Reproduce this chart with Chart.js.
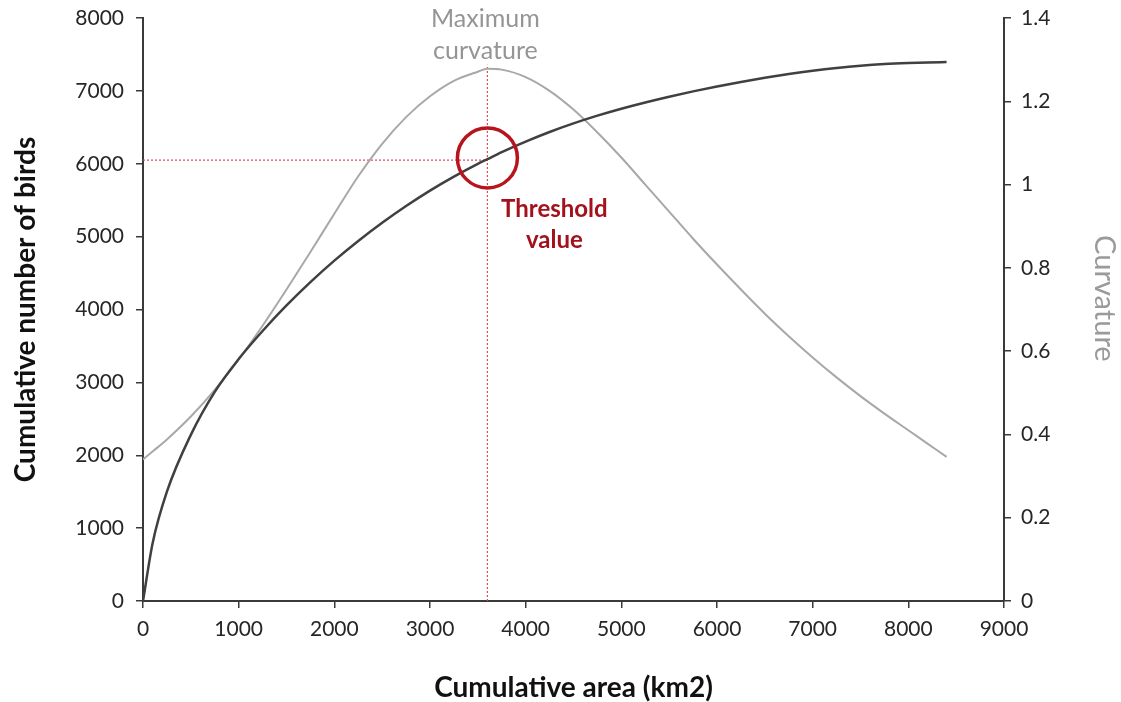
<!DOCTYPE html>
<html>
<head>
<meta charset="utf-8">
<script src="https://cdn.jsdelivr.net/npm/chart.js@4.4.1/dist/chart.umd.min.js"></script>
<style>
  html, body { margin: 0; padding: 0; background: #fff; }
  canvas { display: block; }
</style>
</head>
<body>
<canvas id="chart" width="1121" height="702"></canvas>
<script>
// cumulative area (km2) sampled along the curves
const areaKm2 = [0, 100, 250, 500, 750, 1000, 1250, 1500, 1750, 2000, 2250, 2500, 2750, 3000, 3250, 3500, 3600, 3750, 4000, 4250, 4500, 4750, 5000, 5250, 5500, 5750, 6000, 6250, 6500, 6750, 7000, 7250, 7500, 7750, 8000, 8200, 8400];
// cumulative number of birds (left axis)
const birds = [0, 790, 1500, 2280, 2870, 3320, 3705, 4055, 4375, 4670, 4940, 5190, 5420, 5632, 5824, 5999, 6063, 6159, 6304, 6436, 6554, 6660, 6755, 6841, 6920, 6993, 7061, 7123, 7180, 7231, 7276, 7314, 7345, 7368, 7383, 7391, 7395];
// curvature (right axis)
const curvature = [0.340, 0.359, 0.388, 0.443, 0.507, 0.580, 0.661, 0.748, 0.838, 0.930, 1.020, 1.098, 1.162, 1.212, 1.249, 1.271, 1.278, 1.276, 1.258, 1.225, 1.180, 1.125, 1.065, 1.000, 0.935, 0.870, 0.808, 0.748, 0.690, 0.636, 0.585, 0.537, 0.492, 0.450, 0.410, 0.378, 0.346];

// threshold (max curvature)
const thresholdArea = 3600;
const thresholdBirds = 6050;
const circleBirds = 6080;
const verticalTop = 7360;

const xTicks = { min: 0, max: 9000, step: 1000 };
const birdTicks = { min: 0, max: 8000, step: 1000 };
const curvTicks = { min: 0, max: 1.4, step: 0.2 };

const FONT = "Lato, 'Open Sans', sans-serif";
const AXIS = '#3a3a3a';
const RED = '#b8141e';
const DOTS = '#dc4a55';

const textPlugin = {
  id: 'notes',
  afterDraw(chart) {
    const ctx = chart.ctx;
    const x = chart.scales.x;
    const y = chart.scales.y;
    const px = x.getPixelForValue(thresholdArea);
    const py = y.getPixelForValue(thresholdBirds);
    ctx.save();
    ctx.textAlign = 'center';
    ctx.textBaseline = 'middle';
    ctx.fillStyle = '#959595';
    ctx.font = "25px " + FONT;
    ctx.fillText('Maximum', px - 2, 19);
    ctx.fillText('curvature', px - 2, 51);
    ctx.fillStyle = '#a3121c';
    ctx.font = "bold 24px " + FONT;
    ctx.fillText('Threshold', px + 67, py + 49);
    ctx.fillText('value', px + 67, py + 80);
    ctx.restore();
  }
};

function pts(xs, ys) {
  return xs.map((v, i) => ({ x: v, y: ys[i] }));
}

// fixed axis boxes
function fixBox(size, horizontal) {
  return s => {
    if (horizontal) s.height = size; else s.width = size;
    s.paddingTop = 0; s.paddingBottom = 0; s.paddingLeft = 0; s.paddingRight = 0;
  };
}

new Chart(document.getElementById('chart').getContext('2d'), {
  type: 'line',
  data: {
    datasets: [
      {
        label: 'circle',
        type: 'scatter',
        data: [{ x: thresholdArea, y: circleBirds }],
        yAxisID: 'y',
        pointRadius: 30,
        pointBorderWidth: 3.5,
        pointBorderColor: RED,
        pointBackgroundColor: 'rgba(0,0,0,0)'
      },
      {
        label: 'Cumulative number of birds',
        data: pts(areaKm2, birds),
        yAxisID: 'y',
        borderColor: '#404040',
        borderWidth: 2.5,
        pointRadius: 0,
        cubicInterpolationMode: 'monotone'
      },
      {
        label: 'Curvature',
        data: pts(areaKm2, curvature),
        yAxisID: 'y1',
        borderColor: '#a8a8a8',
        borderWidth: 2,
        pointRadius: 0,
        cubicInterpolationMode: 'monotone'
      },
      {
        label: 'h',
        data: [{ x: 0, y: thresholdBirds }, { x: thresholdArea, y: thresholdBirds }],
        yAxisID: 'y',
        borderColor: DOTS,
        borderWidth: 1.2,
        borderDash: [2, 2],
        pointRadius: 0
      },
      {
        label: 'v',
        data: [{ x: thresholdArea, y: 0 }, { x: thresholdArea, y: verticalTop }],
        yAxisID: 'y',
        borderColor: DOTS,
        borderWidth: 1.2,
        borderDash: [2, 2],
        pointRadius: 0
      }
    ]
  },
  options: {
    responsive: false,
    animation: false,
    events: [],
    layout: { autoPadding: false, padding: { top: 18, right: 0, bottom: 0, left: 0 } },
    plugins: {
      legend: { display: false },
      tooltip: { enabled: false }
    },
    scales: {
      x: {
        type: 'linear',
        min: xTicks.min,
        max: xTicks.max,
        afterFit: fixBox(101, true),
        border: { display: true, color: AXIS, width: 2 },
        grid: { drawOnChartArea: false, drawTicks: true, tickLength: 7, color: AXIS, lineWidth: 1.5 },
        ticks: {
          stepSize: xTicks.step,
          padding: 9,
          maxRotation: 0,
          color: '#262626',
          font: { family: FONT, size: 21 },
          callback: v => String(v)
        },
        title: {
          display: true,
          text: 'Cumulative area (km2)',
          color: '#111',
          font: { family: FONT, size: 28, weight: 'bold', lineHeight: 1 },
          padding: { top: 0, bottom: 0 }
        }
      },
      y: {
        position: 'left',
        min: birdTicks.min,
        max: birdTicks.max,
        afterFit: fixBox(143, false),
        border: { display: true, color: AXIS, width: 2 },
        grid: { drawOnChartArea: false, drawTicks: true, tickLength: 7, color: AXIS, lineWidth: 1.5 },
        ticks: {
          stepSize: birdTicks.step,
          padding: 12,
          color: '#262626',
          font: { family: FONT, size: 21 },
          callback: v => String(v)
        },
        title: {
          display: true,
          text: 'Cumulative number of birds',
          color: '#111',
          font: { family: FONT, size: 28, weight: 'bold', lineHeight: 1 },
          padding: { top: 12, bottom: 0 }
        }
      },
      y1: {
        position: 'right',
        min: curvTicks.min,
        max: curvTicks.max,
        afterFit: fixBox(117, false),
        border: { display: true, color: AXIS, width: 2 },
        grid: { drawOnChartArea: false, drawTicks: true, tickLength: 7, color: AXIS, lineWidth: 1.5 },
        ticks: {
          stepSize: curvTicks.step,
          padding: 10,
          color: '#262626',
          font: { family: FONT, size: 21 },
          callback: v => String(+v.toFixed(1))
        },
        title: {
          display: true,
          text: 'Curvature   ',
          color: '#9a9a9a',
          font: { family: FONT, size: 29, lineHeight: 1 },
          padding: { top: 2, bottom: 0 }
        }
      }
    }
  },
  plugins: [textPlugin]
});
</script>
</body>
</html>
